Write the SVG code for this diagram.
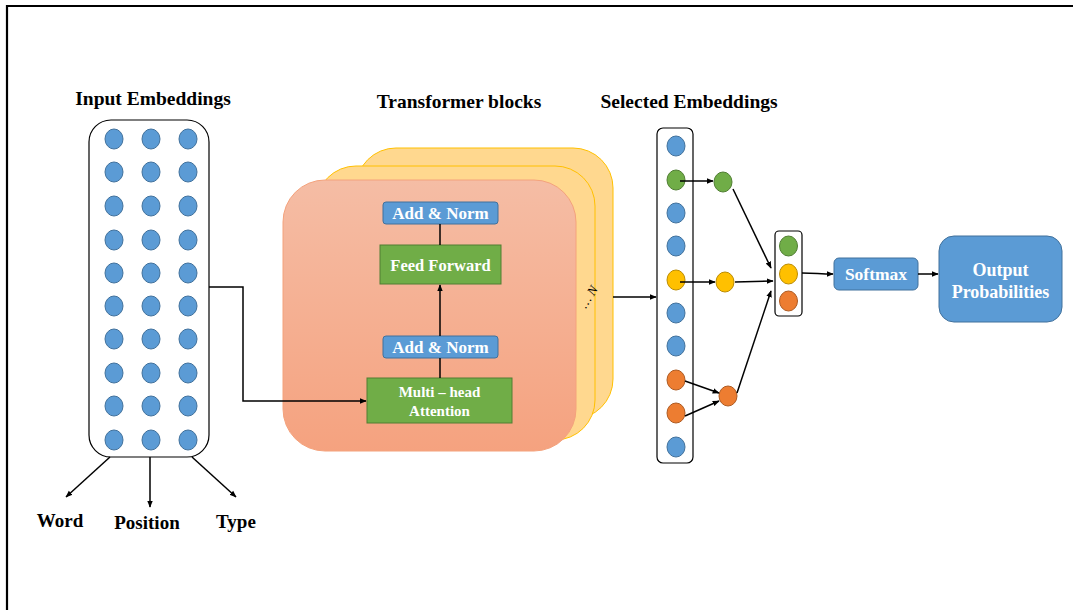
<svg xmlns="http://www.w3.org/2000/svg" width="1073" height="610" viewBox="0 0 1073 610">
<defs>
<marker id="arr" viewBox="0 0 10 10" refX="9" refY="5" markerWidth="7" markerHeight="7" orient="auto-start-reverse" markerUnits="userSpaceOnUse"><path d="M0,1 L10,5 L0,9 z" fill="#000"/></marker>
<linearGradient id="front" x1="0" y1="0" x2="0" y2="1"><stop offset="0" stop-color="#F5BDA5"/><stop offset="1" stop-color="#F5A27F"/></linearGradient>
<style>
.t{font-family:"Liberation Serif","Times New Roman",serif;font-weight:bold;fill:#000;text-anchor:middle}
.w{font-family:"Liberation Serif","Times New Roman",serif;font-weight:bold;fill:#fff;text-anchor:middle}
.b{fill:#5B9BD5;stroke:#41719C;stroke-width:1}
.g{fill:#70AD47;stroke:#507E32;stroke-width:1}
.y{fill:#FFC000;stroke:#BC8C00;stroke-width:1}
.o{fill:#ED7D31;stroke:#AE5A21;stroke-width:1}
.c{fill:none;stroke:#000;stroke-width:1.5}
.box{fill:#fff;stroke:#000;stroke-width:1.2}
</style>
</defs>
<rect width="1073" height="610" fill="#fff"/>
<path d="M7,610 V6 H1073" fill="none" stroke="#000" stroke-width="2.2"/>

<g id="titles">
<text class="t" x="153" y="105" font-size="19.5">Input Embeddings</text>
<text class="t" x="459" y="108" font-size="19.5">Transformer blocks</text>
<text class="t" x="689" y="108" font-size="19.5">Selected Embeddings</text>
</g>

<g id="input-embeddings">
<rect class="box" x="89" y="120" width="120" height="337" rx="22"/>
<g id="input-dots">
<ellipse class="b" cx="114" cy="139" rx="9" ry="10"/><ellipse class="b" cx="151" cy="139" rx="9" ry="10"/><ellipse class="b" cx="188" cy="139" rx="9" ry="10"/>
<ellipse class="b" cx="114" cy="172" rx="9" ry="10"/><ellipse class="b" cx="151" cy="172" rx="9" ry="10"/><ellipse class="b" cx="188" cy="172" rx="9" ry="10"/>
<ellipse class="b" cx="114" cy="206" rx="9" ry="10"/><ellipse class="b" cx="151" cy="206" rx="9" ry="10"/><ellipse class="b" cx="188" cy="206" rx="9" ry="10"/>
<ellipse class="b" cx="114" cy="240" rx="9" ry="10"/><ellipse class="b" cx="151" cy="240" rx="9" ry="10"/><ellipse class="b" cx="188" cy="240" rx="9" ry="10"/>
<ellipse class="b" cx="114" cy="273" rx="9" ry="10"/><ellipse class="b" cx="151" cy="273" rx="9" ry="10"/><ellipse class="b" cx="188" cy="273" rx="9" ry="10"/>
<ellipse class="b" cx="114" cy="306" rx="9" ry="10"/><ellipse class="b" cx="151" cy="306" rx="9" ry="10"/><ellipse class="b" cx="188" cy="306" rx="9" ry="10"/>
<ellipse class="b" cx="114" cy="339" rx="9" ry="10"/><ellipse class="b" cx="151" cy="339" rx="9" ry="10"/><ellipse class="b" cx="188" cy="339" rx="9" ry="10"/>
<ellipse class="b" cx="114" cy="373" rx="9" ry="10"/><ellipse class="b" cx="151" cy="373" rx="9" ry="10"/><ellipse class="b" cx="188" cy="373" rx="9" ry="10"/>
<ellipse class="b" cx="114" cy="406" rx="9" ry="10"/><ellipse class="b" cx="151" cy="406" rx="9" ry="10"/><ellipse class="b" cx="188" cy="406" rx="9" ry="10"/>
<ellipse class="b" cx="114" cy="440" rx="9" ry="10"/><ellipse class="b" cx="151" cy="440" rx="9" ry="10"/><ellipse class="b" cx="188" cy="440" rx="9" ry="10"/>
</g>
</g>

<g id="label-word"><text class="t" x="60" y="527" font-size="19">Word</text></g>
<g id="label-position"><text class="t" x="147" y="529" font-size="19">Position</text></g>
<g id="label-type"><text class="t" x="236" y="528" font-size="19">Type</text></g>

<g id="transformer-blocks">
<rect x="356" y="148" width="257" height="271" rx="40" fill="#FFD88F" stroke="#FFC000" stroke-width="1"/>
<rect x="316" y="166" width="279" height="274" rx="40" fill="#FFD88F" stroke="#FFC000" stroke-width="1"/>
<rect x="283" y="180" width="293" height="271" rx="42" fill="url(#front)" stroke="#F4A27C" stroke-width="1"/>
<g transform="translate(592,299) rotate(-58)"><text x="0" y="0" font-family="Liberation Serif,serif" font-size="13" font-style="italic" fill="#000" text-anchor="middle">… N</text></g>
</g>

<g id="add-norm-top">
<rect x="383" y="202" width="115" height="22" rx="3" fill="#5B9BD5" stroke="#41719C" stroke-width="1"/>
<text class="w" x="440.5" y="219" font-size="17">Add &amp; Norm</text>
</g>
<g id="feed-forward">
<rect x="380" y="245" width="121" height="39" fill="#70AD47" stroke="#507E32" stroke-width="1"/>
<text class="w" x="440.5" y="271" font-size="16.5">Feed Forward</text>
</g>
<g id="add-norm-bottom">
<rect x="383" y="336" width="115" height="22" rx="3" fill="#5B9BD5" stroke="#41719C" stroke-width="1"/>
<text class="w" x="440.5" y="353" font-size="17">Add &amp; Norm</text>
</g>
<g id="multi-head-attention">
<rect x="367" y="378" width="145" height="45" fill="#70AD47" stroke="#507E32" stroke-width="1"/>
<text class="w" x="439.5" y="397" font-size="15">Multi – head</text>
<text class="w" x="439.5" y="416" font-size="15">Attention</text>
</g>

<g id="selected-embeddings">
<rect class="box" x="657" y="128" width="36" height="335" rx="6"/>
<ellipse class="b" cx="676" cy="146" rx="9" ry="10"/>
<ellipse class="g" cx="676" cy="180" rx="9" ry="10"/>
<ellipse class="b" cx="676" cy="213" rx="9" ry="10"/>
<ellipse class="b" cx="676" cy="246" rx="9" ry="10"/>
<ellipse class="y" cx="676" cy="280" rx="9" ry="10"/>
<ellipse class="b" cx="676" cy="313" rx="9" ry="10"/>
<ellipse class="b" cx="676" cy="346" rx="9" ry="10"/>
<ellipse class="o" cx="676" cy="380" rx="9" ry="10"/>
<ellipse class="o" cx="676" cy="413" rx="9" ry="10"/>
<ellipse class="b" cx="676" cy="447" rx="9" ry="10"/>
</g>

<g id="green-node"><ellipse class="g" cx="723" cy="182" rx="9" ry="10"/></g>
<g id="yellow-node"><ellipse class="y" cx="725" cy="282" rx="9" ry="10"/></g>
<g id="orange-node"><ellipse class="o" cx="728" cy="396" rx="9" ry="10"/></g>

<g id="pooled">
<rect class="box" x="775" y="231" width="27" height="85" rx="4"/>
<ellipse class="g" cx="788.5" cy="246" rx="9" ry="10"/>
<ellipse class="y" cx="788.5" cy="274" rx="9" ry="10"/>
<ellipse class="o" cx="788.5" cy="301" rx="9" ry="10"/>
</g>

<g id="softmax">
<rect x="834" y="258" width="84" height="32" rx="5" fill="#5B9BD5" stroke="#41719C" stroke-width="1"/>
<text class="w" x="876" y="280" font-size="17.5">Softmax</text>
</g>
<g id="output-probabilities">
<rect x="939" y="236" width="123" height="86" rx="15" fill="#5B9BD5" stroke="#41719C" stroke-width="1"/>
<text class="w" x="1000.5" y="276" font-size="18">Output</text>
<text class="w" x="1000.5" y="298" font-size="18">Probabilities</text>
</g>

<g id="connectors">
<path class="c" d="M209,287 H243 V401 H366" marker-end="url(#arr)"/>
<path class="c" d="M110,457 L66,497" marker-end="url(#arr)"/>
<path class="c" d="M150,457 V507" marker-end="url(#arr)"/>
<path class="c" d="M192,457 L236,497" marker-end="url(#arr)"/>
<path class="c" d="M440,224 V245"/>
<path class="c" d="M440,336 V285" marker-end="url(#arr)"/>
<path class="c" d="M440,378 V358"/>
<path class="c" d="M613,297 H656" marker-end="url(#arr)"/>
<path class="c" d="M680,181 H713" marker-end="url(#arr)"/>
<path class="c" d="M680,282 H715" marker-end="url(#arr)"/>
<path class="c" d="M685,381 L719,393" marker-end="url(#arr)"/>
<path class="c" d="M685,416 L719,401" marker-end="url(#arr)"/>
<path class="c" d="M733,189 L771,268" marker-end="url(#arr)"/>
<path class="c" d="M735,282 L773,281" marker-end="url(#arr)"/>
<path class="c" d="M737,393 L771,291" marker-end="url(#arr)"/>
<path class="c" d="M802,273 C815,273 820,274 833,274" marker-end="url(#arr)"/>
<path class="c" d="M918,274 H938" marker-end="url(#arr)"/>
</g>
</svg>
